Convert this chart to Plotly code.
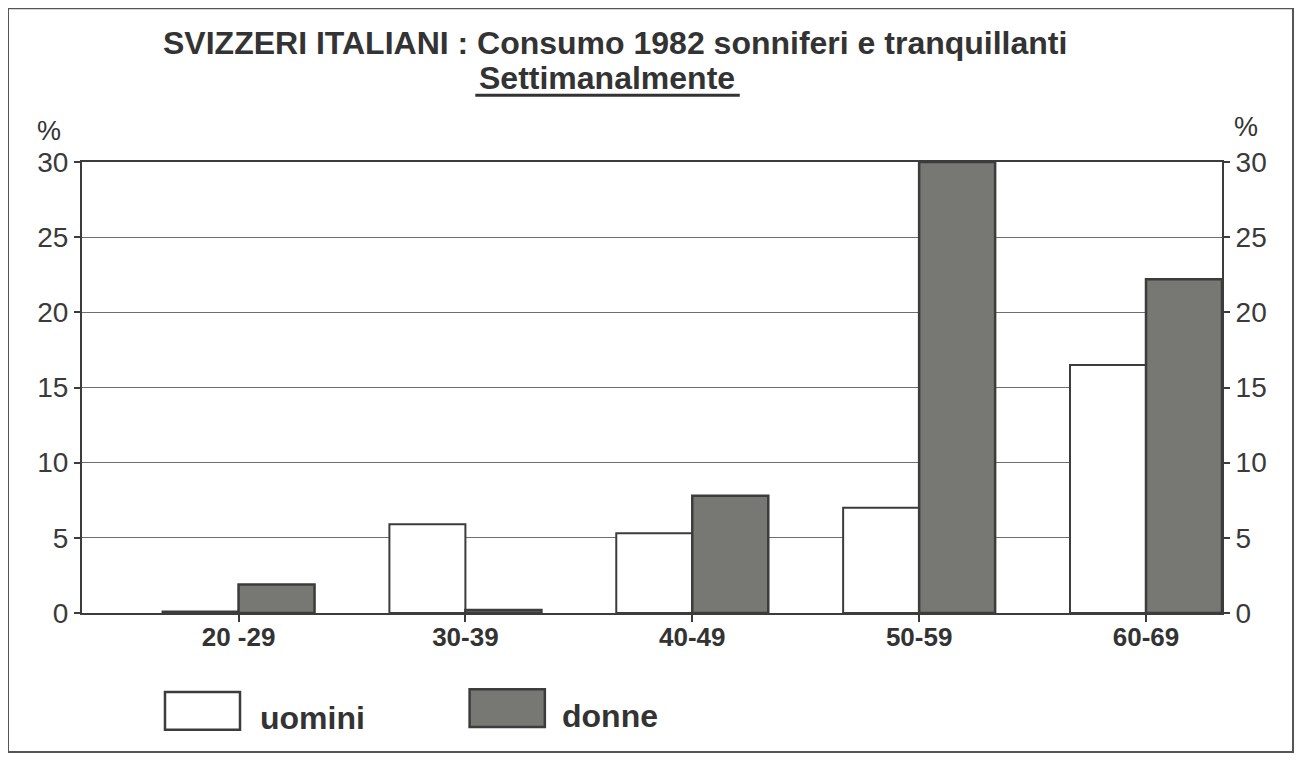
import plotly.graph_objects as go

categories = ["20 -29", "30-39", "40-49", "50-59", "60-69"]
uomini = [0.1, 5.9, 5.3, 7.0, 16.5]
donne = [1.9, 0.2, 7.8, 30.0, 22.2]
y_ticks = [0, 5, 10, 15, 20, 25, 30]

title_text = "SVIZZERI ITALIANI : Consumo 1982 sonniferi e tranquillanti"
subtitle_text = "Settimanalmente"

INK = "#333333"
LINE = "#3c3c3c"
GRID = "#6e6e6e"
DONNE_FILL = "#777873"
FONT = "Liberation Sans"

fig = go.Figure()
fig.add_trace(go.Bar(
    x=categories, y=uomini, name="uomini",
    marker=dict(color="white", line=dict(color=LINE, width=2)),
))
fig.add_trace(go.Bar(
    x=categories, y=donne, name="donne",
    marker=dict(color=DONNE_FILL, line=dict(color=LINE, width=2.5)),
))
# invisible companion trace so that the right-hand axis is drawn
fig.add_trace(go.Scatter(
    x=categories, y=donne, yaxis="y2", mode="markers",
    marker=dict(opacity=0), hoverinfo="skip", showlegend=False,
))

fig.update_layout(
    width=1287, height=745,
    margin=dict(l=74, r=73, t=154, b=140),
    paper_bgcolor="white", plot_bgcolor="white",
    barmode="group", bargap=0.33, bargroupgap=0,
    showlegend=False,
    font=dict(family=FONT, color=INK),
    xaxis=dict(
        type="category", range=[-0.69, 4.335],
        showline=True, linecolor=LINE, linewidth=2, mirror=True,
        ticks="outside", ticklen=7, tickwidth=2, tickcolor=LINE,
        ticklabelstandoff=-7,
        showgrid=False,
        tickfont=dict(family=FONT, size=26, color=INK, weight="bold"),
    ),
    yaxis=dict(
        range=[0, 30], tickvals=y_ticks,
        showline=True, linecolor=LINE, linewidth=2,
        ticks="outside", ticklen=6, tickwidth=1.5, tickcolor=LINE,
        showgrid=True, gridcolor=GRID, gridwidth=1.2,
        zeroline=False,
        tickfont=dict(family=FONT, size=28, color="#3a3a3a"),
    ),
    yaxis2=dict(
        range=[0, 30], tickvals=y_ticks, overlaying="y", side="right",
        showline=True, linecolor=LINE, linewidth=2,
        ticks="outside", ticklen=6, tickwidth=1.5, tickcolor=LINE,
        showgrid=False, zeroline=False,
        tickfont=dict(family=FONT, size=28, color="#3a3a3a"),
    ),
)

annotations = [
    dict(text="<b>" + title_text + "</b>", x=0.4675, y=1.264, xref="paper", yref="paper",
         showarrow=False, font=dict(size=32, color=INK), xanchor="center", yanchor="middle"),
    dict(text="<b>" + subtitle_text + "</b>", x=0.4605, y=1.187, xref="paper", yref="paper",
         showarrow=False, font=dict(size=32, color=INK), xanchor="center", yanchor="middle"),
    dict(text="%", x=-0.029, y=1.069, xref="paper", yref="paper", showarrow=False,
         font=dict(size=27, color=INK), xanchor="center", yanchor="middle"),
    dict(text="%", x=1.021, y=1.078, xref="paper", yref="paper", showarrow=False,
         font=dict(size=27, color=INK), xanchor="center", yanchor="middle"),
    dict(text="<b>uomini</b>", x=0.154, y=-0.233, xref="paper", yref="paper", showarrow=False,
         font=dict(size=32, color=INK), xanchor="left", yanchor="middle"),
    dict(text="<b>donne</b>", x=0.419, y=-0.228, xref="paper", yref="paper", showarrow=False,
         font=dict(size=32, color=INK), xanchor="left", yanchor="middle"),
]
fig.update_layout(annotations=annotations)

shapes = [
    # outer frame
    dict(type="rect", xref="paper", yref="paper", x0=-0.0649, x1=1.0623, y0=-0.308, y1=1.341,
         line=dict(color="#555555", width=2), fillcolor="rgba(0,0,0,0)", layer="below"),
    # subtitle underline
    dict(type="line", xref="paper", yref="paper", x0=0.345, x1=0.577, y0=1.148, y1=1.148,
         line=dict(color=INK, width=3)),
    # legend boxes
    dict(type="rect", xref="paper", yref="paper", x0=0.0728, x1=0.1386, y0=-0.259, y1=-0.175,
         line=dict(color=LINE, width=2.5), fillcolor="white"),
    dict(type="rect", xref="paper", yref="paper", x0=0.340, x1=0.406, y0=-0.253, y1=-0.169,
         line=dict(color=LINE, width=2.5), fillcolor=DONNE_FILL),
]
fig.update_layout(shapes=shapes)

fig.write_html("out.html")
